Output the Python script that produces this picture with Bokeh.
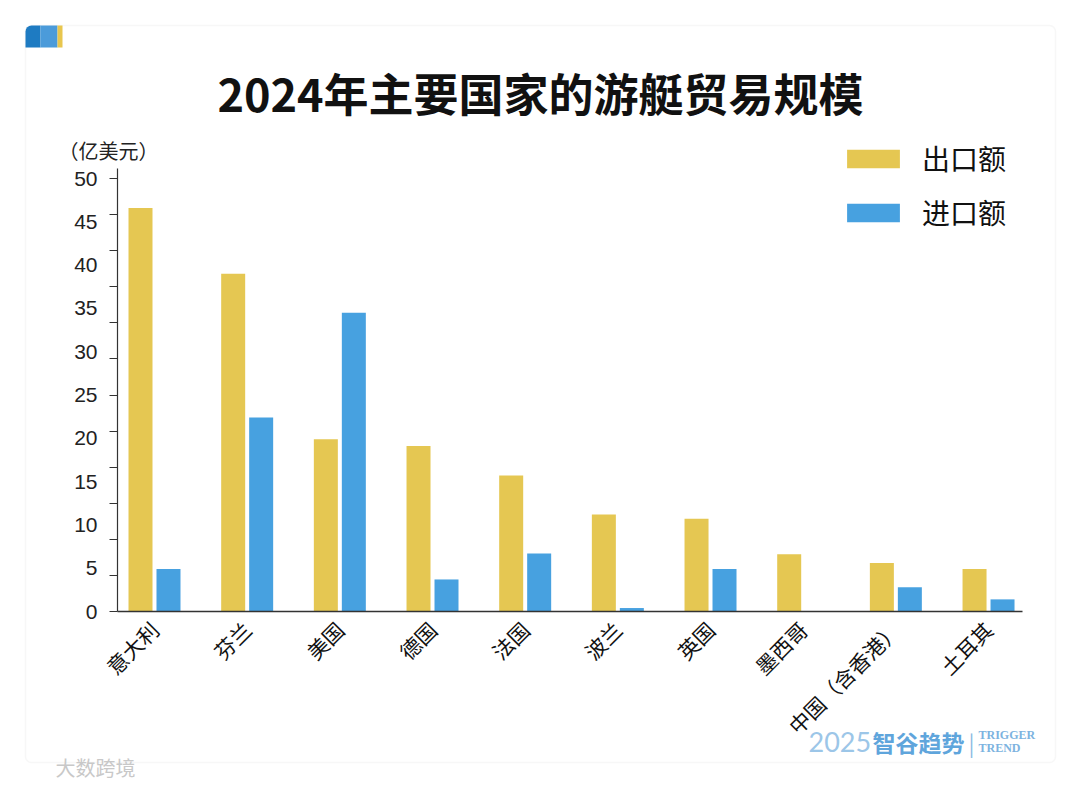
import math
from bokeh.plotting import figure
from bokeh.models import (Range1d, FixedTicker, Label, BoxAnnotation, Legend,
                          LegendItem, ColumnDataSource)
from bokeh.transform import dodge
from bokeh.embed import file_html
from bokeh.resources import INLINE

# ---- data ----
countries = ["意大利", "芬兰", "美国", "德国", "法国", "波兰", "英国", "墨西哥", "中国（含香港）", "土耳其"]
exports = [46.6, 39.0, 19.9, 19.1, 15.7, 11.2, 10.7, 6.6, 5.6, 4.9]
imports = [4.9, 22.4, 34.5, 3.7, 6.7, 0.4, 4.9, 0.0, 2.8, 1.4]
y_tick_values = [0, 5, 10, 15, 20, 25, 30, 35, 40, 45, 50]
series_names = ["出口额", "进口额"]
title_text = "2024年主要国家的游艇贸易规模"
unit_text = "（亿美元）"

EXPORT_COLOR = "#E5C752"
IMPORT_COLOR = "#47A1E0"
FONT = "Noto Sans CJK SC"
NUM_FONT = "Liberation Sans"

W, H = 1080, 786
# pixel layout of the chart area
GROUP0_PX, GROUP_STEP_PX = 154.0, 92.67     # x centre of first group, spacing
ZERO_PX, UNIT_PX = 611.0, 8.66              # y pixel of 0, pixels per unit
AXIS_LEFT_PX, AXIS_RIGHT_PX, AXIS_TOP_PX = 117.0, 1022.0, 168.0

def dx(X):
    return (X - GROUP0_PX) / GROUP_STEP_PX
def dy(Y):
    return (ZERO_PX - Y) / UNIT_PX

src = ColumnDataSource(dict(idx=list(range(len(countries))), exp=exports, imp=imports))

p = figure(width=W, height=H, output_backend="svg", toolbar_location=None, title=None,
           x_range=Range1d(dx(0), dx(W)), y_range=Range1d(dy(H), dy(0)), min_border=0)
p.background_fill_color = "white"
p.border_fill_color = "white"
p.outline_line_color = None
p.xgrid.visible = False
p.ygrid.visible = False

# card
p.add_layout(BoxAnnotation(left=dx(25), right=dx(1055), top=dy(25), bottom=dy(762),
                           fill_color="white", fill_alpha=0, line_color="#e4e4e4",
                           line_width=1.5, border_radius=6, level="underlay"))
# corner decoration
for x0, x1, c, rad in [(25, 40, "#1E7BC2", (6, 0, 0, 0)), (40, 57, "#4B9BDA", 0),
                       (57, 62, "#E8C64E", 0)]:
    p.add_layout(BoxAnnotation(left=dx(x0), right=dx(x1), top=dy(25), bottom=dy(47),
                               fill_color=c, fill_alpha=1, line_color=None,
                               border_radius=rad))

r1 = p.vbar(x=dodge("idx", -0.151, range=p.x_range), top="exp", width=0.259, source=src,
            fill_color=EXPORT_COLOR, line_color=None)
r2 = p.vbar(x=dodge("idx", 0.151, range=p.x_range), top="imp", width=0.259, source=src,
            fill_color=IMPORT_COLOR, line_color=None)

# x axis
xa = p.xaxis[0]
xa.fixed_location = 0
xa.bounds = (dx(AXIS_LEFT_PX), dx(AXIS_RIGHT_PX))
xa.ticker = FixedTicker(ticks=list(range(len(countries))))
xa.major_label_overrides = {i: c for i, c in enumerate(countries)}
xa.major_label_orientation = math.pi / 4
xa.major_tick_line_color = None
xa.major_tick_out = 0
xa.major_tick_in = 0
xa.minor_tick_line_color = None
xa.axis_line_color = "#333333"
xa.axis_line_width = 1.5
xa.major_label_text_font = FONT
xa.major_label_text_font_size = "21px"
xa.major_label_text_color = "#111111"
xa.major_label_standoff = 14

# y axis
ya = p.yaxis[0]
ya.fixed_location = dx(AXIS_LEFT_PX)
ya.bounds = (0, dy(AXIS_TOP_PX))
ya.ticker = FixedTicker(ticks=y_tick_values,
                        minor_ticks=[k * 50 / 12 for k in range(13)])
ya.major_tick_line_color = None
ya.major_tick_out = 8
ya.major_tick_in = 0
ya.minor_tick_out = 8
ya.minor_tick_in = 0
ya.minor_tick_line_color = "#333333"
ya.axis_line_color = "#333333"
ya.axis_line_width = 1.2
ya.major_label_text_font = NUM_FONT
ya.major_label_text_font_size = "21px"
ya.major_label_text_color = "#222222"
ya.major_label_standoff = 12

# legend
legend = Legend(items=[LegendItem(label=series_names[0], renderers=[r1]),
                       LegendItem(label=series_names[1], renderers=[r2])],
                location=(840, H - 232), orientation="vertical")
legend.glyph_width = 66
legend.glyph_height = 23
legend.label_standoff = 16
legend.spacing = 14
legend.padding = 0
legend.margin = 0
legend.border_line_color = None
legend.background_fill_alpha = 0
legend.label_text_font = FONT
legend.label_text_font_size = "28px"
legend.label_text_color = "#111111"
p.add_layout(legend)

def add_label(X, Y, text, size, color, font=FONT, style="normal", align="left"):
    p.add_layout(Label(x=dx(X), y=dy(Y), text=text, text_align=align,
                       text_baseline="middle", text_font=font, text_font_style=style,
                       text_font_size=size, text_color=color))

add_label(540, 92, title_text, "45px", "#111111", style="bold", align="center")
add_label(58, 150, unit_text, "20px", "#222222")

# watermarks
add_label(808, 741, "2025", "27px", "#9CC6E8", font="Lato")
add_label(872, 741, "智谷趋势", "23px", "#5FA5DC", style="bold")
add_label(968, 741, "|", "22px", "#8DBBE3")
add_label(978, 734, "TRIGGER", "12px", "#7DB3E0", font="Liberation Serif", style="bold")
add_label(978, 747, "TREND", "12px", "#7DB3E0", font="Liberation Serif", style="bold")
add_label(55, 767, "大数跨境", "20px", "#c8c8c8")

open("out.html", "w").write(file_html(p, INLINE))
